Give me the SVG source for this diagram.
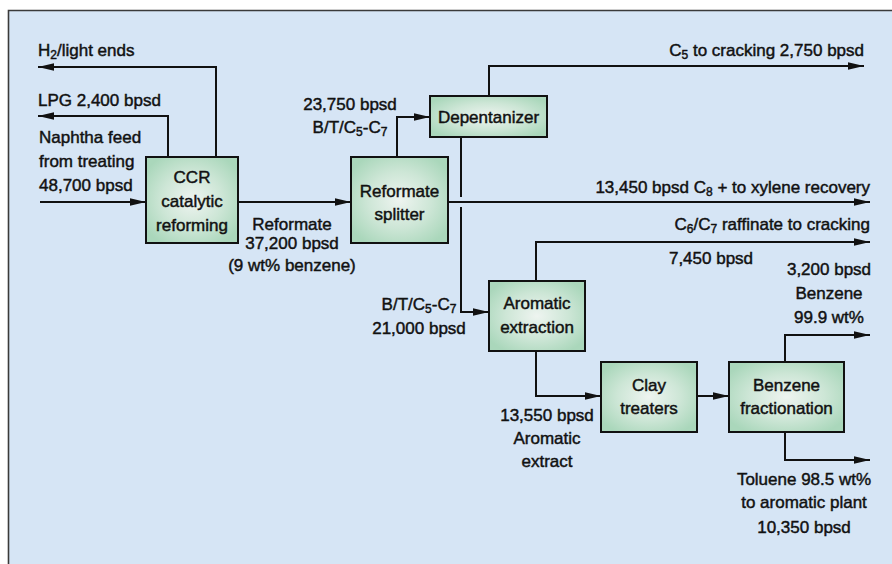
<svg xmlns="http://www.w3.org/2000/svg" width="892" height="564" viewBox="0 0 892 564">
<defs>
<radialGradient id="bx" cx="50%" cy="50%" r="60%">
<stop offset="0" stop-color="#eef4f0"/>
<stop offset="0.55" stop-color="#cde6d6"/>
<stop offset="1" stop-color="#aad7bb"/>
</radialGradient>
<marker id="ah" markerUnits="userSpaceOnUse" markerWidth="17" markerHeight="9" refX="16" refY="4.5" orient="auto">
<path d="M0,0.8 L16,4.5 L0,8.2 z" fill="#111"/>
</marker>
<style>
.bx{fill:url(#bx);stroke:#111;stroke-width:2}
.ln{fill:none;stroke:#111;stroke-width:2}
.ar{marker-end:url(#ah)}
text{font-family:"Liberation Sans",Arial,sans-serif;font-size:17px;fill:#111;stroke:#111;stroke-width:0.45}
.m{text-anchor:middle}
.e{text-anchor:end}
.s{font-size:12px}
</style>
</defs>
<rect x="0" y="0" width="892" height="564" fill="#ffffff"/>
<rect x="9" y="11" width="883" height="553" fill="#d6e5f5"/>
<path d="M8.5,564 V10.5 H892" fill="none" stroke="#3a3a3a" stroke-width="1.6"/>

<g id="connectors">
<path class="ln ar" d="M40,202 H146"/>
<path class="ln ar" d="M216,157 V67 H38"/>
<path class="ln ar" d="M168,157 V116 H38"/>
<path class="ln ar" d="M238,202 H351"/>
<path class="ln ar" d="M397,157 V117 H430"/>
<path class="ln ar" d="M489,96 V66 H864"/>
<path class="ln ar" d="M448,202 H870"/>
<path class="ln" d="M461,137 V197"/>
<path class="ln ar" d="M461,207 V312 H489"/>
<path class="ln ar" d="M536,281 V242 H870"/>
<path class="ln ar" d="M536,351 V396 H601"/>
<path class="ln ar" d="M697,396 H729"/>
<path class="ln ar" d="M785,362 V335 H870"/>
<path class="ln ar" d="M785,432 V460 H870"/>
</g>

<g id="ccr">
<rect class="bx" x="146" y="157" width="92" height="86"/>
<text class="m" x="192" y="183">CCR</text>
<text class="m" x="192" y="207">catalytic</text>
<text class="m" x="192" y="231">reforming</text>
</g>
<g id="splitter">
<rect class="bx" x="351" y="157" width="97" height="86"/>
<text class="m" x="399.5" y="197">Reformate</text>
<text class="m" x="399.5" y="220">splitter</text>
</g>
<g id="depentanizer">
<rect class="bx" x="430" y="96" width="117" height="41"/>
<text class="m" x="488.5" y="123">Depentanizer</text>
</g>
<g id="aromatic">
<rect class="bx" x="489" y="281" width="96" height="70"/>
<text class="m" x="537" y="309">Aromatic</text>
<text class="m" x="537" y="333">extraction</text>
</g>
<g id="clay">
<rect class="bx" x="601" y="362" width="96" height="70"/>
<text class="m" x="649" y="391">Clay</text>
<text class="m" x="649" y="414">treaters</text>
</g>
<g id="benzene">
<rect class="bx" x="729" y="362" width="115" height="70"/>
<text class="m" x="786.5" y="391">Benzene</text>
<text class="m" x="786.5" y="414">fractionation</text>
</g>

<g id="labels">
<text x="38" y="56">H<tspan class="s" dy="3">2</tspan><tspan dy="-3">/light ends</tspan></text>
<text x="38" y="106">LPG 2,400 bpsd</text>
<text x="39" y="143">Naphtha feed</text>
<text x="39" y="167">from treating</text>
<text x="39" y="191">48,700 bpsd</text>
<text class="m" x="292" y="230">Reformate</text>
<text class="m" x="292" y="249">37,200 bpsd</text>
<text class="m" x="292" y="271">(9 wt% benzene)</text>
<text class="m" x="350" y="110">23,750 bpsd</text>
<text class="m" x="350" y="133">B/T/C<tspan class="s" dy="3">5</tspan><tspan dy="-3">-C</tspan><tspan class="s" dy="3">7</tspan></text>
<text class="e" x="864" y="56">C<tspan class="s" dy="3">5</tspan><tspan dy="-3"> to cracking 2,750 bpsd</tspan></text>
<text class="e" x="870" y="193">13,450 bpsd C<tspan class="s" dy="3">8</tspan><tspan dy="-3"> + to xylene recovery</tspan></text>
<text class="e" x="870" y="230">C<tspan class="s" dy="3">6</tspan><tspan dy="-3">/C</tspan><tspan class="s" dy="3">7</tspan><tspan dy="-3"> raffinate to cracking</tspan></text>
<text class="m" x="711" y="264">7,450 bpsd</text>
<text class="m" x="829" y="275">3,200 bpsd</text>
<text class="m" x="829" y="299">Benzene</text>
<text class="m" x="829" y="323">99.9 wt%</text>
<text class="m" x="419" y="310">B/T/C<tspan class="s" dy="3">5</tspan><tspan dy="-3">-C</tspan><tspan class="s" dy="3">7</tspan></text>
<text class="m" x="419" y="334">21,000 bpsd</text>
<text class="m" x="547" y="421">13,550 bpsd</text>
<text class="m" x="547" y="444">Aromatic</text>
<text class="m" x="547" y="467">extract</text>
<text class="m" x="804" y="485">Toluene 98.5 wt%</text>
<text class="m" x="804" y="508">to aromatic plant</text>
<text class="m" x="804" y="533">10,350 bpsd</text>
</g>
</svg>
